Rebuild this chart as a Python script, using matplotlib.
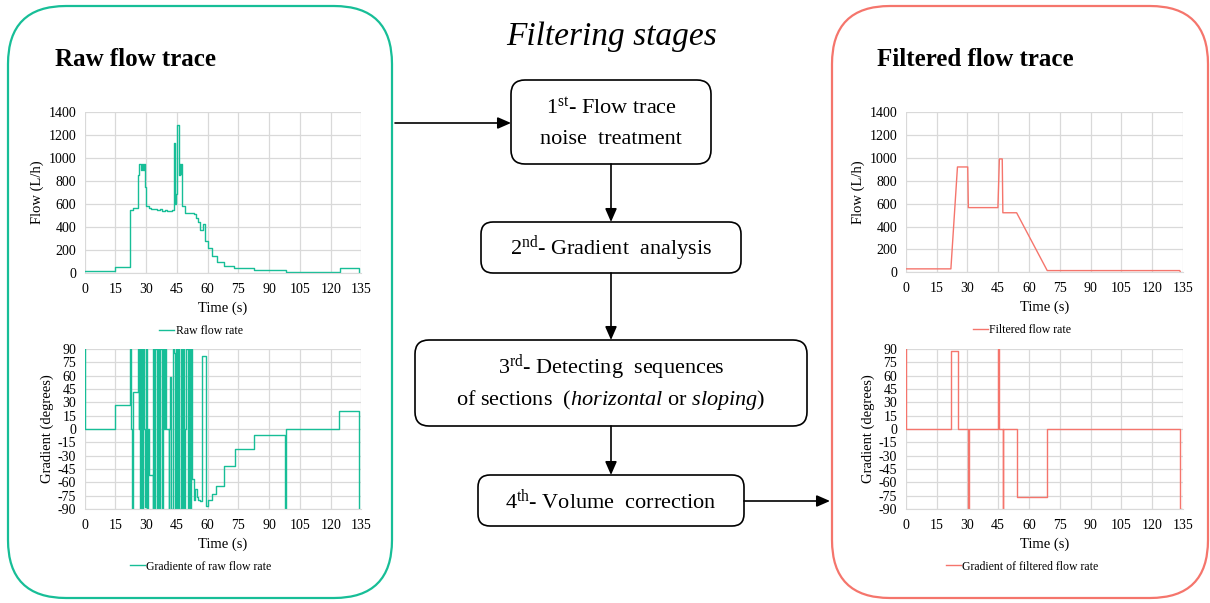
import matplotlib.pyplot as plt
from matplotlib.patches import FancyBboxPatch

plt.rcParams['font.family'] = 'Liberation Serif'
plt.rcParams['mathtext.fontset'] = 'custom'
plt.rcParams['mathtext.rm'] = 'Liberation Serif'
plt.rcParams['mathtext.it'] = 'Liberation Serif:italic'
plt.rcParams['axes.unicode_minus'] = False

# raw flow trace (L/h), step values
raw_t = [0, 15, 22.4, 23.6, 26.1, 26.6, 27.3, 27.8, 28.4, 28.9, 29.4, 30.1, 31.2, 32.4, 34.0,
         35.5, 37.0, 38.0, 39.2, 40.0, 42.6, 43.5, 44.0, 44.4, 45.3, 46.0, 46.3, 46.6, 47.0,
         47.6, 49.0, 51.0, 53.6, 54.4, 55.5, 56.5, 57.6, 58.9, 60.3, 62.0, 64.4, 68.1, 73.1,
         82.5, 98.0, 124.3, 133.7, 134]
raw_q = [20, 50, 550, 565, 850, 950, 900, 950, 900, 950, 750, 580, 565, 555, 560,
         545, 560, 540, 550, 535, 545, 1130, 600, 690, 1285, 850, 950, 860, 950,
         580, 520, 525, 510, 475, 447, 375, 424, 280, 215, 150, 100, 65, 40,
         25, 10, 40, 0, 0]

# gradient of raw flow (degrees)
raw_gt = [0, 0.3, 15, 22.1, 22.5, 23.0, 23.4, 26.0, 26.4, 26.8, 27.2, 27.6, 28.0, 28.6, 29.0,
          29.4, 30.0, 30.4, 31.0, 31.6, 33.2, 33.6, 34.0, 34.6, 35.2, 35.8, 36.4, 37.0, 37.6,
          38.2, 38.8, 39.4, 39.8, 41.0, 41.4, 41.7, 42.4, 43.0, 43.5, 44.0, 44.6, 45.2, 45.6,
          46.2, 46.8, 47.4, 48.0, 48.6, 49.2, 49.6, 50.2, 50.8, 51.4, 51.8, 52.3, 52.5, 53.6,
          54.0, 54.6, 55.4, 56.5, 57.4, 59.0, 60.3, 62.0, 64.3, 68.0, 73.2, 82.5, 97.6, 98.0,
          124.0, 133.8, 134]
raw_g = [90, 0, 27, 90, 0, -90, 42, 90, 0, 90, -90, 90, -90, 90, 0,
         -88, 90, -90, 0, -52, -90, 90, -90, 90, -90, 90, -90, 90, -90,
         90, 0, 90, 0, -90, 0, 59, -90, 90, 85, -90, 90, -90, 90,
         -90, 90, -90, 90, -90, 0, 90, -90, 90, -90, 90, 0, -56, -80,
         -67, -76, -80, -81, 82, -87, -80, -73, -64, -42, -22, -7, -90, 0,
         20, -90, -90]

# filtered flow trace (L/h)
filt_t = [0, 22.0, 25.2, 30.2, 30.5, 44.9, 45.6, 47.0, 47.3, 54.0, 68.9, 133.4, 133.8]
filt_q = [30, 30, 920, 920, 565, 565, 990, 990, 520, 520, 15, 15, 0]

# gradient of filtered flow (degrees)
filt_gt = [0, 0.2, 22.0, 25.3, 30.2, 30.6, 45.0, 45.5, 47.2, 47.5, 54.0, 68.9, 133.6, 134]
filt_g = [90, 0, 88, 0, -90, 0, 90, 0, -90, 0, -77, 0, -90, -90]

x_ticks = list(range(0, 136, 15))
flow_ticks = list(range(0, 1401, 200))
grad_ticks = list(range(-90, 91, 15))

teal = '#17BE97'
red = '#F5756C'
W, H = 1210, 603

fig = plt.figure(figsize=(W / 100, H / 100), dpi=100)
bg = fig.add_axes([0, 0, 1, 1])
bg.set_xlim(0, W)
bg.set_ylim(H, 0)
bg.axis('off')


def rbox(x0, y0, x1, y1, r, color, lw):
    bg.add_patch(FancyBboxPatch((x0, y0), x1 - x0, y1 - y0,
                                boxstyle=f'round,pad=0,rounding_size={r}',
                                fc='none', ec=color, lw=lw))


# big panels
rbox(8, 6, 392, 598, 58, teal, 1.6)
rbox(832, 6, 1208, 598, 58, red, 1.6)
bg.text(55, 60, 'Raw flow trace', fontsize=18, fontweight='bold', va='center')
bg.text(877, 60, 'Filtered flow trace', fontsize=18, fontweight='bold', va='center')

# flow chart
bg.text(612, 37, 'Filtering stages', fontsize=24, style='italic', ha='center', va='center')
rbox(511, 80, 711, 164, 14, 'black', 1.2)
rbox(481, 222, 741, 273, 12, 'black', 1.2)
rbox(415, 340, 807, 426, 14, 'black', 1.2)
rbox(478, 475, 744, 526, 12, 'black', 1.2)
bg.text(611, 108, r'1$^{\mathrm{st}}$- Flow trace', fontsize=16, ha='center', va='center')
bg.text(611, 140, 'noise  treatment', fontsize=16, ha='center', va='center')
bg.text(611, 249, r'2$^{\mathrm{nd}}$- Gradient  analysis', fontsize=16, ha='center', va='center')
bg.text(611, 368, r'3$^{\mathrm{rd}}$- Detecting  sequences', fontsize=16, ha='center', va='center')
bg.text(611, 400, r'of sections  ($\mathit{horizontal}$ or $\mathit{sloping}$)', fontsize=16,
        ha='center', va='center')
bg.text(611, 501, r'4$^{\mathrm{th}}$- Volume  correction', fontsize=16, ha='center', va='center')

arrows = [((395, 123), (511, 123)), ((611, 164), (611, 222)), ((611, 273), (611, 340)),
          ((611, 426), (611, 475)), ((744, 501), (830, 501))]
for a, b in arrows:
    bg.annotate('', xy=b, xytext=a,
                arrowprops=dict(arrowstyle='-|>,head_length=0.8,head_width=0.35',
                                color='black', lw=1.2, shrinkA=0, shrinkB=0))


def px_axes(l, t, r, b):
    return fig.add_axes([l / W, 1 - b / H, (r - l) / W, (b - t) / H])


def chart(box, t, y, color, ylim, yticks, ylabel, label, steps):
    ax = px_axes(*box)
    ax.plot(t, y, color=color, lw=1.0, label=label,
            drawstyle='steps-post' if steps else 'default')
    ax.set_xlim(0, 135)
    ax.set_ylim(*ylim)
    ax.set_xticks(x_ticks)
    ax.set_yticks(yticks)
    ax.grid(True, color='#D9D9D9', lw=0.9)
    ax.set_axisbelow(True)
    for s in ax.spines.values():
        s.set_visible(False)
    ax.spines['bottom'].set_visible(True)
    ax.spines['bottom'].set_color('#D9D9D9')
    ax.tick_params(length=0, labelsize=10)
    ax.tick_params(axis='x', pad=7)
    ax.tick_params(axis='y', pad=6)
    ax.set_xlabel('Time (s)', fontsize=10.5, labelpad=4)
    ax.set_ylabel(ylabel, fontsize=10.5, labelpad=3)
    ax.legend(loc='center', bbox_to_anchor=(0.42, -0.36), frameon=False, fontsize=8.5,
              handlelength=1.3, handletextpad=0.1)
    return ax


chart((84.5, 112, 361.5, 273), raw_t, raw_q, teal, (0, 1400), flow_ticks,
      'Flow (L/h)', 'Raw flow rate', True)
chart((84.5, 349, 361.5, 509), raw_gt, raw_g, teal, (-90, 90), grad_ticks,
      'Gradient (degrees)', 'Gradiente of raw flow rate', True)
chart((905.7, 112, 1183, 272.3), filt_t, filt_q, red, (0, 1400), flow_ticks,
      'Flow (L/h)', 'Filtered flow rate', False)
chart((905.7, 349, 1183, 509), filt_gt, filt_g, red, (-90, 90), grad_ticks,
      'Gradient (degrees)', 'Gradient of filtered flow rate', True)

fig.savefig('out.png', dpi=100)
